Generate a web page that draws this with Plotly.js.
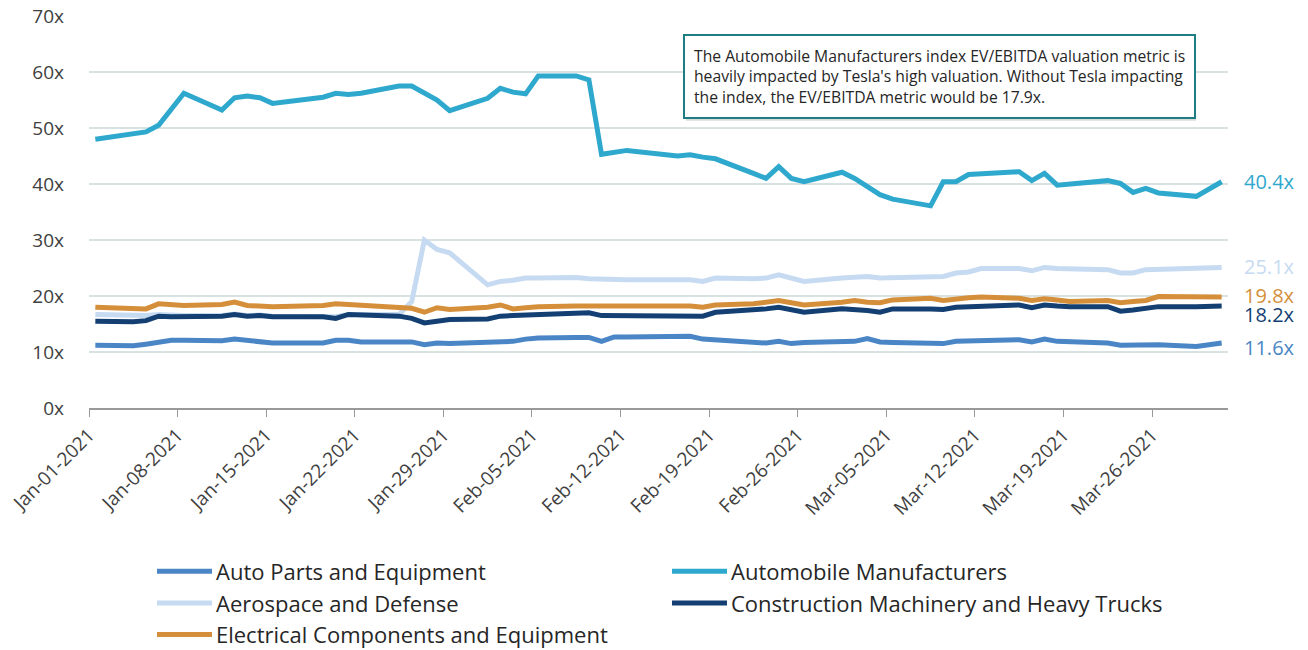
<!DOCTYPE html>
<html>
<head>
<meta charset="utf-8">
<script src="https://cdn.plot.ly/plotly-3.0.1.min.js"></script>
<style>
html,body{margin:0;padding:0;background:#fff;}
#chart{width:1308px;height:650px;}
</style>
</head>
<body>
<div id="chart"></div>
<script>
// Trading dates (Jan 18 and Feb 15 are market holidays)
const dates = [
  "2021-01-01","2021-01-04","2021-01-05","2021-01-06","2021-01-07","2021-01-08",
  "2021-01-11","2021-01-12","2021-01-13","2021-01-14","2021-01-15",
  "2021-01-19","2021-01-20","2021-01-21","2021-01-22",
  "2021-01-25","2021-01-26","2021-01-27","2021-01-28","2021-01-29",
  "2021-02-01","2021-02-02","2021-02-03","2021-02-04","2021-02-05",
  "2021-02-08","2021-02-09","2021-02-10","2021-02-11","2021-02-12",
  "2021-02-16","2021-02-17","2021-02-18","2021-02-19",
  "2021-02-22","2021-02-23","2021-02-24","2021-02-25","2021-02-26",
  "2021-03-01","2021-03-02","2021-03-03","2021-03-04","2021-03-05",
  "2021-03-08","2021-03-09","2021-03-10","2021-03-11","2021-03-12",
  "2021-03-15","2021-03-16","2021-03-17","2021-03-18","2021-03-19",
  "2021-03-22","2021-03-23","2021-03-24","2021-03-25","2021-03-26",
  "2021-03-29","2021-03-30","2021-03-31"
];

const autoParts = [
  11.2,11.1,11.4,11.8,12.1,12.1,
  12.0,12.3,12.0,11.8,11.6,
  11.6,12.1,12.1,11.8,
  11.8,11.8,11.3,11.6,11.5,
  11.7,11.9,11.9,12.3,12.5,
  12.6,12.6,11.9,12.7,12.7,
  12.8,12.8,12.3,12.2,
  11.9,11.6,11.9,11.5,11.7,
  11.9,11.9,12.4,11.8,11.7,
  11.6,11.5,11.9,12.0,12.1,
  12.2,11.8,12.3,11.9,11.8,
  11.6,11.2,11.3,11.3,11.3,
  11.0,11.4,11.6
];

const autoMakers = [
  48.0,49.0,49.3,50.5,53.3,56.2,
  53.2,55.4,55.7,55.4,54.4,
  55.5,56.2,56.0,56.2,
  57.5,57.5,56.3,55.0,53.1,
  55.3,57.1,56.4,56.1,59.3,
  59.3,58.6,45.3,45.6,46.0,
  45.0,45.2,44.8,44.5,
  41.9,41.0,43.1,41.0,40.4,
  42.1,41.0,39.5,38.1,37.3,
  36.1,40.4,40.4,41.7,41.8,
  42.2,40.6,41.9,39.8,40.0,
  40.6,40.1,38.5,39.2,38.4,
  37.8,39.1,40.4
];

const aerospace = [
  16.7,16.4,16.5,16.7,16.5,16.5,
  16.5,16.8,16.5,16.6,16.4,
  16.4,16.3,16.7,16.7,
  16.7,19.0,30.0,28.3,27.7,
  22.0,22.6,22.8,23.2,23.2,
  23.3,23.1,23.0,22.9,22.9,
  22.9,22.9,22.6,23.2,
  23.1,23.2,23.8,23.2,22.6,
  23.2,23.4,23.5,23.2,23.3,
  23.4,23.5,24.1,24.3,24.9,
  24.9,24.5,25.1,24.9,24.8,
  24.7,24.1,24.1,24.7,24.8,
  24.9,25.0,25.1
];

const construction = [
  15.5,15.4,15.6,16.4,16.3,16.3,
  16.4,16.7,16.4,16.5,16.3,
  16.3,16.0,16.7,16.6,
  16.4,16.0,15.2,15.5,15.8,
  15.9,16.4,16.5,16.6,16.7,
  16.9,17.0,16.5,16.5,16.5,
  16.5,16.5,16.4,17.1,
  17.5,17.7,18.0,17.6,17.1,
  17.7,17.6,17.4,17.1,17.7,
  17.7,17.6,18.0,18.1,18.3,
  18.4,17.9,18.4,18.2,18.1,
  18.1,17.3,17.5,17.7,18.1,
  18.1,18.1,18.2
];

const electrical = [
  18.0,17.7,17.7,18.6,18.5,18.3,
  18.5,18.9,18.3,18.2,18.1,
  18.3,18.6,18.5,18.4,
  18.1,17.8,17.1,17.9,17.6,
  18.0,18.4,17.7,17.9,18.1,
  18.2,18.2,18.3,18.3,18.4,
  18.3,18.2,18.0,18.4,
  18.6,18.8,19.2,18.8,18.4,
  18.9,19.2,18.9,18.8,19.3,
  19.6,19.2,19.5,19.7,19.8,
  19.6,19.2,19.5,19.3,19.0,
  19.2,18.8,19.0,19.2,19.9,
  19.9,19.8,19.8
];

const seriesNames = [
  "Auto Parts and Equipment",
  "Automobile Manufacturers",
  "Aerospace and Defense",
  "Construction Machinery and Heavy Trucks",
  "Electrical Components and Equipment"
];
const seriesData = [autoParts, autoMakers, aerospace, construction, electrical];
const seriesColors = ["#4A86C6", "#2FA8CD", "#C6DBF1", "#143F72", "#D58F3B"];
const endLabels = ["11.6x", "40.4x", "25.1x", "18.2x", "19.8x"];
const labelShift = [-4, 0, 1, -8, 2];

const tickDates = ["2021-01-01","2021-01-08","2021-01-15","2021-01-22","2021-01-29",
  "2021-02-05","2021-02-12","2021-02-19","2021-02-26","2021-03-05","2021-03-12",
  "2021-03-19","2021-03-26"];
const tickLabels = ["Jan-01-2021","Jan-08-2021","Jan-15-2021","Jan-22-2021","Jan-29-2021",
  "Feb-05-2021","Feb-12-2021","Feb-19-2021","Feb-26-2021","Mar-05-2021","Mar-12-2021",
  "Mar-19-2021","Mar-26-2021"];

const noteText = "The Automobile Manufacturers index EV/EBITDA valuation metric is<br>heavily impacted by Tesla's high valuation. Without Tesla impacting<br>the index, the EV/EBITDA metric would be 17.9x.";

const FONT = "'Open Sans', 'Noto Sans', sans-serif";
// points centred within each day (date axis, between tick marks)
const xs = dates.map(d => d + " 12:00");

const traces = seriesData.map((vals, i) => ({
  type: "scatter",
  mode: "lines",
  name: seriesNames[i],
  x: xs,
  y: vals,
  line: {color: seriesColors[i], width: 5},
  hoverinfo: "x+y+name"
}));

const annotations = seriesData.map((vals, i) => ({
  xref: "x", yref: "y",
  x: xs[xs.length - 1],
  y: vals[vals.length - 1],
  text: endLabels[i],
  showarrow: false,
  xanchor: "left",
  xshift: 20,
  yshift: labelShift[i],
  font: {family: FONT, size: 20, color: seriesColors[i]}
}));

annotations.push({
  xref: "paper", yref: "paper",
  x: 0.5215, y: 0.954,
  xanchor: "left", yanchor: "top",
  text: noteText,
  align: "left",
  showarrow: false,
  bgcolor: "#ffffff",
  bordercolor: "#1F7C82",
  borderwidth: 2,
  borderpad: 9,
  font: {family: FONT, size: 15.7, color: "#262626"}
});

const layout = {
  width: 1308,
  height: 650,
  margin: {l: 89, r: 80, t: 16, b: 241.5},
  paper_bgcolor: "#ffffff",
  plot_bgcolor: "#ffffff",
  font: {family: FONT, size: 19, color: "#404040"},
  showlegend: true,
  legend: {
    orientation: "h",
    xref: "paper", yref: "container",
    x: 0.0553, xanchor: "left",
    y: 0.153, yanchor: "top",
    itemwidth: 54,
    entrywidth: 446,
    entrywidthmode: "pixels",
    font: {family: FONT, size: 22, color: "#262626"},
    traceorder: "normal"
  },
  xaxis: {
    type: "date",
    range: ["2021-01-01", "2021-04-01"],
    tickvals: tickDates,
    ticktext: tickLabels,
    tickangle: -45,
    ticks: "outside",
    ticklen: 7,
    tickcolor: "#999999",
    tickwidth: 1,
    showline: true,
    linecolor: "#999999",
    linewidth: 1.5,
    showgrid: false,
    zeroline: false,
    automargin: false,
    tickfont: {family: FONT, size: 19, color: "#404040"},
    fixedrange: true
  },
  yaxis: {
    range: [0, 70],
    dtick: 10,
    tick0: 0,
    ticksuffix: "x",
    showgrid: true,
    gridcolor: "#D8E2E3",
    gridwidth: 1.5,
    zeroline: false,
    showline: false,
    ticks: "",
    ticklabelstandoff: 24,
    automargin: false,
    tickfont: {family: FONT, size: 19, color: "#404040"},
    fixedrange: true
  },
  shapes: [{
    type: "rect", xref: "paper", yref: "paper",
    x0: 0.5241, x1: 0.9719, y0: 0.7325, y1: 0.9389,
    fillcolor: "rgba(0,0,0,0.14)", line: {width: 0}, layer: "above"
  }],
  annotations: annotations
};

Plotly.newPlot("chart", traces, layout, {displayModeBar: false, staticPlot: true}).then(gd => {
  // lengthen the legend line samples to match the original swatches
  gd.querySelectorAll(".legend .legendlines path").forEach(p => p.setAttribute("d", "M5,0h55"));
});
</script>
</body>
</html>
